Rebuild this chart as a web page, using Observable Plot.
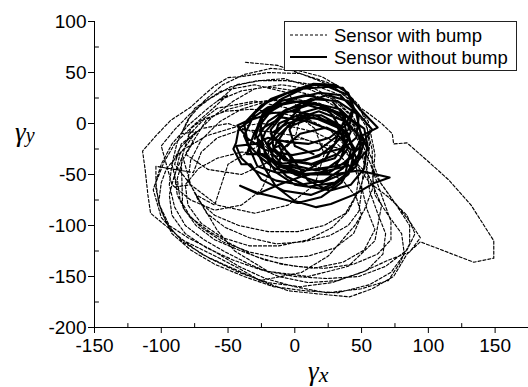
<!DOCTYPE html>
<html><head><meta charset="utf-8">
<script src="https://cdn.jsdelivr.net/npm/d3@7"></script>
<script src="https://cdn.jsdelivr.net/npm/@observablehq/plot@0.6"></script>
<style>
body{margin:0;background:#fff;}
#wrap{position:relative;width:528px;height:387px;font-family:"Liberation Sans",Arial,sans-serif;}
#legend{position:absolute;left:284px;top:21px;width:233px;height:50px;border:1px solid #222;background:#fff;box-sizing:border-box;}
#legend svg{position:absolute;left:-1px;top:-1px;overflow:visible;}
</style></head><body><div id="wrap"></div>
<script>
const seriesNames = ["Sensor with bump", "Sensor without bump"];
const xDomain = [-150, 175];
const yDomain = [-200, 100];
const xTicks = [-150, -100, -50, 0, 50, 100, 150];
const yTicks = [-200, -150, -100, -50, 0, 50, 100];
const xMinor = [-125, -75, -25, 25, 75, 125, 175];
const yMinor = [-175, -125, -75, -25, 25, 75];

// Sensor with bump (dashed trajectory), [γx, γy]
const withBump = [
[-37,60],[-13,57],[4,49],[18,42],[30,35],[45,20],[55,2],[60,-30],[58,-65],[52,-85],[45,-100],[25,-130],[5,-146],[-26,-154],[-42,-142],[-58,-131],[-83,-115],[-108,-88],[-110,-70],[-112,-46],[-114,-27],[-104,-12],[-93,3],[-78,16],[-68,28],[-60,37],[-50,45],
[-40,46],[-20,50],[4,49],[25,40],[42,22],[55,10],[65,0],[73,-10],[74,-20],[84,-19],[98,-35],[115,-55],[132,-80],[149,-115],[149,-132],[134,-136],[112,-125],[94,-116],[84,-128],[74,-150],[58,-162],[41,-170],[17,-167],[-5,-164],[-26,-154],[-50,-140],[-70,-128],[-88,-110],[-100,-92],[-106,-65],[-100,-40],[-92,-20],[-80,-2],[-65,15],[-52,28],
[-44,38],[-26,42],[-8,44],[12,36],[30,24],[44,6],[52,-16],[58,-36],[64,-58],[76,-80],[86,-100],[86,-118],[78,-138],[70,-154],[50,-162],[24,-166],[0,-160],[-22,-152],[-42,-140],[-62,-124],[-80,-112],[-94,-100],[-102,-78],[-104,-58],[-98,-38],[-90,-20],[-76,-2],[-62,14],[-50,28],
[-58,22],[-40,32],[-20,36],[0,32],[18,26],[34,14],[44,-2],[50,-22],[54,-44],[56,-66],[62,-88],[68,-108],[66,-128],[54,-144],[32,-154],[10,-156],[-12,-150],[-34,-138],[-52,-126],[-68,-114],[-82,-100],[-90,-82],[-94,-60],[-92,-40],[-86,-24],[-74,-8],
[-85,-10],[-75,15],[-55,32],[-30,38],[-5,30],[5,10],[0,-15],[-15,-35],[-40,-50],[-65,-45],[-82,-30],
[-66,4],[-50,14],[-32,20],[-14,24],[6,20],[24,12],[40,0],[48,-18],[52,-40],[50,-62],[54,-84],[60,-104],[52,-124],[36,-136],[14,-142],[-10,-138],[-30,-130],[-48,-118],[-64,-106],[-78,-92],[-86,-74],[-88,-54],[-84,-36],[-76,-18],
[-80,-12],[-68,4],[-52,12],[-32,14],[-10,10],[10,4],[26,-6],[38,-22],[46,-40],[56,-58],[70,-72],[84,-90],[90,-108],[84,-124],[68,-140],[48,-150],[24,-152],[0,-150],[-24,-144],[-46,-134],[-66,-122],[-82,-108],[-92,-90],[-94,-70],[-90,-50],[-84,-32],
[-78,-60],[-90,-40],[-85,-20],[-70,-5],[-50,0],[-32,-8],[-20,-25],[-18,-45],[-25,-65],[-40,-80],[-60,-85],[-78,-75],[-92,-60],
[-100,-22],[-90,-6],[-78,10],[-64,24],[-48,36],[-28,42],[-6,42],[14,38],[30,30],[44,16],[54,-4],[58,-26],[58,-48],[60,-70],[70,-90],[80,-108],[82,-128],[72,-146],[56,-158],[32,-166],[8,-164],[-16,-160],[-38,-150],[-60,-138],[-78,-124],[-92,-108],[-100,-86],[-104,-64],[-104,-42],
[-76,-48],[-70,-28],[-58,-14],[-40,-6],[-20,-8],[0,-12],[18,-20],[34,-32],[46,-48],[50,-66],[48,-86],[40,-100],[26,-110],[6,-116],[-14,-118],[-34,-112],[-52,-102],[-66,-88],[-74,-70],
[-60,-80],[-50,-40],[-25,-20],[5,-15],[35,-25],[55,-50],[65,-80],[60,-115],[40,-140],[10,-150],[-20,-145],[-45,-125],[-58,-105],
[-80,-56],[-78,-36],[-70,-16],[-56,2],[-40,14],[-20,22],[0,24],[18,20],[34,10],[46,-8],[54,-30],[60,-52],[66,-74],[72,-96],[72,-114],[62,-128],[44,-138],[22,-142],[0,-140],[-22,-134],[-42,-124],[-60,-114],[-74,-100],[-84,-82],
[-85,-35],[-78,-5],[-58,15],[-30,22],[-5,15],[15,-5],[22,-30],[15,-60],[-5,-80],[-30,-88],[-58,-80],[-78,-60],
[-88,-62],[-92,-40],[-88,-18],[-80,4],[-68,22],[-54,38],[-38,48],[-18,54],[2,52],[20,46],[36,34],[48,18],[54,-2],[56,-22],[54,-44],[48,-66],[40,-86],[28,-102],[10,-114],[-12,-120],[-34,-120],[-54,-112],[-70,-98],[-80,-80],
[-82,-60],[-72,-44],[-58,-34],[-40,-28],[-20,-30],[0,-36],[20,-44],[36,-56],[46,-72],[50,-90],[44,-108],[30,-122],[10,-130],[-12,-132],[-34,-126],[-54,-116],[-70,-102],[-82,-86],[-88,-70],
[-90,-52],[-86,-30],[-76,-12],[-62,6],[-46,22],[-30,34],[-10,38],[10,34],[28,24],[40,10],[48,-10],[54,-32],[62,-54],[74,-76],[86,-96],[94,-112],[86,-126],[70,-134],[50,-146],[28,-156],[4,-160],[-20,-156],[-42,-146],[-64,-132],[-84,-116],[-96,-98],[-102,-78],[-100,-58],
[-96,-44],[-84,-26],[-66,-12],[-46,-4],[-26,0],[-6,-2],[14,-8],[30,-18],[42,-32],[48,-50],[46,-70],[38,-88],[22,-100],[2,-106],[-20,-106],[-42,-100],[-60,-90],[-72,-76],[-78,-60]
];

// Sensor without bump (solid trajectory), [γx, γy]
const withoutBump = [
[-30,-15],[-25,5],[-12,18],[5,22],[22,17],[36,5],[40,-15],[34,-35],[20,-48],[2,-50],[-15,-44],[-27,-32],
[-35,-20],[-38,0],[-25,18],[-5,30],[15,38],[36,35],[48,15],[62,-4],[50,-12],[48,-30],[40,-50],[28,-62],[12,-70],[-8,-66],[-25,-55],[-33,-40],
[-40,-40],[-46,-25],[-44,-19],[-42,-5],[-32,4],[-18,10],[0,12],[15,8],[28,0],[38,-10],[45,-25],[42,-42],[35,-58],[20,-72],[2,-78],[-15,-72],[-28,-68],[-41,-61],
[-28,-69],[-12,-60],[5,-52],[25,-46],[45,-40],[55,-25],[52,-5],[38,8],[18,18],[-2,22],[-20,16],[-32,5],[-43,-2],
[-35,-15],[-22,-26],[-2,-31],[18,-26],[32,-12],[38,6],[28,22],[8,28],[-10,22],[-24,8],[-26,-8],
[-18,-28],[-8,-42],[8,-50],[28,-50],[48,-46],[71,-53],[60,-58],[44,-70],[27,-79],[16,-82],[0,-76],[-14,-62],[-22,-45],
[-28,-28],[-22,-8],[-8,12],[12,24],[32,22],[48,8],[46,-14],[32,-30],[12,-40],[-8,-36],[-20,-22],
[-14,-14],[0,4],[18,12],[38,2],[52,-18],[46,-42],[30,-58],[10,-62],[-6,-52],[-18,-36],
[-22,-28],[-30,-10],[-24,10],[-10,24],[6,34],[25,36],[40,28],[46,10],[50,-14],[42,-34],[26,-48],[6,-50],[-12,-42],
[-10,-26],[4,-10],[24,-4],[40,-14],[46,-34],[36,-55],[20,-64],[0,-60],[-14,-48],[-22,-32],
[-26,-6],[-10,6],[10,2],[30,-8],[42,-26],[38,-48],[20,-58],[0,-50],[-16,-36],[-20,-18],
[-6,2],[8,20],[24,28],[40,22],[50,6],[58,-6],[48,-24],[36,-40],[16,-46],[-4,-40],[-12,-22],
[-16,-24],[-6,-4],[14,6],[32,-4],[40,-24],[30,-42],[8,-46],[-10,-40],[-24,-30],
[-36,-30],[-30,-8],[-18,12],[-2,24],[18,30],[34,28],[44,14],[40,-6],[30,-20],[22,-36],[6,-48],[-14,-48],[-28,-42],
[-38,-12],[-30,10],[-18,24],[-2,32],[14,39],[30,38],[40,30],[44,16],[38,-2],[26,-14],[10,-20],[-6,-18],[-20,-14],
[-30,-20],[-44,-22],[-40,-34],[-30,-46],[-14,-56],[4,-60],[22,-56],[36,-44],[44,-28],[40,-10],[28,2],[10,6],[-6,0],[-18,-10],
[-10,-20],[-2,-36],[14,-40],[30,-34],[38,-18],[34,-2],[20,8],[2,8],[-12,0],[-16,-14],
[-4,-30],[10,-56],[26,-66],[42,-60],[52,-44],[54,-24],[48,-4],[34,14],[14,20],[-6,14],[-20,2],[-28,-14],[-26,-30],[-14,-40],
[0,-38],[18,-32],[30,-20],[34,-4],[26,12],[10,18],[-8,10],[-18,-6],[-16,-24],[-6,-36],[8,-36],
[20,-30],[36,-24],[42,-8],[36,8],[20,16],[4,10],[-4,-6],[0,-22],[14,-30]
];

const fmt = d => String(d);
const tickShape = {draw(context, l) { context.moveTo(0, 0); context.lineTo(0, -l); }};
const plot = Plot.plot({
  width: 528, height: 387,
  marginLeft: 94, marginRight: 0, marginTop: 21, marginBottom: 60,
  style: {fontFamily: '"Liberation Sans", Arial, sans-serif', fontSize: "19px", background: "white", color: "black", overflow: "visible"},
  x: {domain: xDomain},
  y: {domain: yDomain},
  marks: [
    Plot.line(withBump, {x: d => d[0], y: d => d[1], stroke: "black", strokeWidth: 1.15, strokeDasharray: "3,2"}),
    Plot.line(withoutBump, {x: d => d[0], y: d => d[1], stroke: "black", strokeWidth: 2.1, strokeLinejoin: "round"}),
    Plot.ruleX([xDomain[0]], {stroke: "black"}),
    Plot.ruleY([yDomain[0]], {stroke: "black"}),
    Plot.vector(xMinor, {x: d => d, y: yDomain[0], length: 4, rotate: 0, anchor: "start", shape: tickShape, stroke: "black", strokeWidth: 1}),
    Plot.vector(yMinor, {x: xDomain[0], y: d => d, length: 4, rotate: 90, anchor: "start", shape: tickShape, stroke: "black", strokeWidth: 1}),
    Plot.axisX(xTicks, {tickSize: 6, tickPadding: 5, tickFormat: fmt, label: null, stroke: "black", strokeOpacity: 1}),
    Plot.axisY(yTicks, {tickSize: 6, tickPadding: 2, tickFormat: fmt, label: null, stroke: "black", strokeOpacity: 1})
  ]
});

const svg = d3.select(plot);
const yl = svg.append("text").attr("x", 15).attr("y", 141).attr("text-anchor", "start")
  .attr("font-family", '"Liberation Serif", "Times New Roman", serif').attr("font-style", "italic").attr("fill", "black");
yl.append("tspan").attr("font-size", 27).text("γ");
yl.append("tspan").attr("font-size", 20).attr("dy", 1).text("y");
const xl = svg.append("text").attr("x", 308).attr("y", 380).attr("text-anchor", "start")
  .attr("font-family", '"Liberation Serif", "Times New Roman", serif').attr("font-style", "italic").attr("fill", "black");
xl.append("tspan").attr("font-size", 27).text("γ");
xl.append("tspan").attr("font-size", 22).attr("dy", 2).text("x");

const wrap = document.getElementById("wrap");
wrap.appendChild(plot);

const legend = document.createElement("div");
legend.id = "legend";
wrap.appendChild(legend);
const lg = d3.select(legend).append("svg").attr("width", 233).attr("height", 50);
const rows = [{dash: "3,2", w: 1.15, y: 14}, {dash: null, w: 2.1, y: 36}];
rows.forEach((r, i) => {
  lg.append("line").attr("x1", 6).attr("x2", 43).attr("y1", r.y).attr("y2", r.y)
    .attr("stroke", "black").attr("stroke-width", r.w).attr("stroke-dasharray", r.dash);
  lg.append("text").attr("x", 50).attr("y", r.y + 6.5).attr("font-size", 18.5)
    .attr("font-family", '"Liberation Sans", Arial, sans-serif').attr("fill", "black").text(seriesNames[i]);
});
</script>
</body></html>
